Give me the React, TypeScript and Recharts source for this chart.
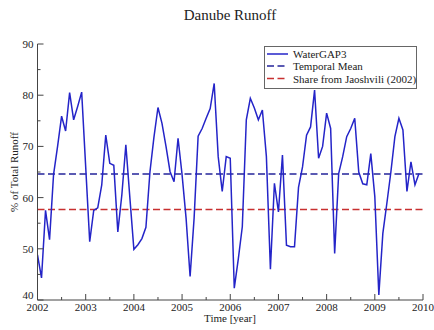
import React from 'react';
import { LineChart, Line, XAxis, YAxis, ReferenceLine, Legend, Customized } from 'recharts';

const title = 'Danube Runoff';
const xLabel = 'Time [year]';
const yLabel = '% of Total Runoff';
const seriesNames = ['WaterGAP3', 'Temporal Mean', 'Share from Jaoshvili (2002)'];

const startYear = 2002;
const v2002 = [48.8, 44.3, 57.5, 51.8, 64.5, 70.0, 75.9, 73.0, 80.5, 75.2, 77.8, 80.6];
const v2003 = [66.0, 51.4, 57.5, 58.0, 62.5, 72.2, 66.7, 66.3, 53.3, 60.5, 70.3, 60.0];
const v2004 = [49.9, 50.8, 52.0, 54.2, 65.0, 71.8, 77.6, 74.5, 70.0, 65.1, 63.1, 71.6];
const v2005 = [64.5, 56.0, 44.6, 56.0, 72.0, 73.5, 75.5, 77.4, 82.3, 68.0, 61.2, 68.0];
const v2006 = [67.7, 42.3, 48.0, 54.3, 75.2, 79.4, 77.5, 75.2, 77.1, 68.0, 46.0, 62.8];
const v2007 = [57.2, 68.3, 50.7, 50.4, 50.4, 62.0, 66.0, 72.2, 73.8, 81.0, 67.7, 70.0];
const v2008 = [76.5, 73.5, 49.1, 64.7, 68.0, 71.9, 73.5, 75.5, 65.0, 62.7, 62.5, 68.6];
const v2009 = [60.2, 41.0, 53.0, 58.9, 65.0, 71.9, 75.5, 73.2, 61.2, 67.0, 62.5, 64.7];
const runoff = [...v2002, ...v2003, ...v2004, ...v2005, ...v2006, ...v2007, ...v2008, ...v2009];

const temporalMean = 64.6;
const jaoshviliShare = 57.7;

const xTicks = [2002, 2002.5, 2003, 2003.5, 2004, 2004.5, 2005, 2005.5, 2006, 2006.5, 2007, 2007.5, 2008, 2008.5, 2009, 2009.5, 2010];
const yTicks = [40, 45, 50, 55, 60, 65, 70, 75, 80, 85, 90];

const data = runoff.map((v, i) => ({ t: startYear + i / 12, v }));

const FONT = '"Liberation Serif", "Times New Roman", Times, serif';
const AXIS = '#444';
const BLUE = '#2424c8';
const NAVY = '#24249a';
const RED = '#c83030';

const isMajorX = (v: number) => Math.abs(v - Math.round(v)) < 1e-6;
const isMajorY = (v: number) => v % 10 === 0;

const BottomTick = (p: any) => {
  const { x, y, payload } = p;
  const major = isMajorX(payload.value);
  return (
    <g>
      <line x1={x} x2={x} y1={y} y2={y - (major ? 6 : 3)} stroke={AXIS} strokeWidth={1} />
      {major && (
        <text x={x} y={y + 11} textAnchor="middle" style={{ fontFamily: FONT }} fontSize={11} fill="#222">
          {payload.value}
        </text>
      )}
    </g>
  );
};
const TopTick = (p: any) => {
  const { x, y, payload } = p;
  const major = isMajorX(payload.value);
  return <line x1={x} x2={x} y1={y} y2={y + (major ? 6 : 3)} stroke={AXIS} strokeWidth={1} />;
};
const LeftTick = (p: any) => {
  const { x, y, payload } = p;
  const major = isMajorY(payload.value);
  return (
    <g>
      <line x1={x} x2={x + (major ? 6 : 3)} y1={y} y2={y} stroke={AXIS} strokeWidth={1} />
      {major && (
        <text x={x - 4} y={payload.value === 40 ? y - 1 : y + 4} textAnchor="end" style={{ fontFamily: FONT }} fontSize={11} fill="#222">
          {payload.value}
        </text>
      )}
    </g>
  );
};
const RightTick = (p: any) => {
  const { x, y, payload } = p;
  const major = isMajorY(payload.value);
  return <line x1={x} x2={x - (major ? 6 : 3)} y1={y} y2={y} stroke={AXIS} strokeWidth={1} />;
};

const LegendBox = () => (
  <svg width={154} height={44} style={{ display: 'block' }}>
    <rect x={0.5} y={0.5} width={152} height={42} fill="#fff" stroke="#666" strokeWidth={1} />
    <line x1={3} x2={24} y1={8} y2={8} stroke={BLUE} strokeWidth={1.5} />
    <line x1={3} x2={24} y1={20} y2={20} stroke={NAVY} strokeWidth={1.5} strokeDasharray="7 3.5" />
    <line x1={3} x2={24} y1={32.5} y2={32.5} stroke={RED} strokeWidth={1.5} strokeDasharray="7 3.5" />
    <text x={29} y={12} style={{ fontFamily: FONT }} fontSize={11} fill="#222">{seriesNames[0]}</text>
    <text x={29} y={24} style={{ fontFamily: FONT }} fontSize={11} fill="#222">{seriesNames[1]}</text>
    <text x={29} y={36.5} style={{ fontFamily: FONT }} fontSize={11} fill="#222">{seriesNames[2]}</text>
  </svg>
);

const Texts = () => (
  <g>
    <text x={230} y={20} textAnchor="middle" style={{ fontFamily: FONT }} fontSize={15} fill="#222">{title}</text>
    <text x={230} y={322} textAnchor="middle" style={{ fontFamily: FONT }} fontSize={11} fill="#222">{xLabel}</text>
    <text x={18} y={172} textAnchor="middle" style={{ fontFamily: FONT }} fontSize={11} fill="#222" transform="rotate(-90 18 172)">{yLabel}</text>
  </g>
);

export default function App() {
  return (
    <div style={{ position: 'absolute', left: 0, top: 0, width: 434, height: 330, background: '#fff' }}>
      <LineChart width={434} height={330} data={data} margin={{ top: 44, right: 11, bottom: 0, left: 0 }}>
        <XAxis
          xAxisId="b"
          dataKey="t"
          type="number"
          domain={[2002, 2010]}
          ticks={xTicks}
          interval={0}
          height={30}
          tickSize={0}
          tickMargin={0}
          tick={<BottomTick />}
          axisLine={{ stroke: AXIS }}
          allowDataOverflow
        />
        <XAxis
          xAxisId="t"
          dataKey="t"
          type="number"
          orientation="top"
          domain={[2002, 2010]}
          ticks={xTicks}
          interval={0}
          height={0}
          tickSize={0}
          tickMargin={0}
          tick={<TopTick />}
          axisLine={{ stroke: AXIS }}
          allowDataOverflow
        />
        <YAxis
          yAxisId="l"
          type="number"
          domain={[40, 90]}
          ticks={yTicks}
          interval={0}
          width={37.5}
          tickSize={0}
          tickMargin={0}
          tick={<LeftTick />}
          axisLine={{ stroke: AXIS }}
          allowDataOverflow
        />
        <YAxis
          yAxisId="r"
          type="number"
          orientation="right"
          domain={[40, 90]}
          ticks={yTicks}
          interval={0}
          width={0}
          tickSize={0}
          tickMargin={0}
          tick={<RightTick />}
          axisLine={{ stroke: AXIS }}
          allowDataOverflow
        />
        <ReferenceLine xAxisId="b" yAxisId="l" y={temporalMean} stroke={NAVY} strokeWidth={1.5} strokeDasharray="7 3.5" />
        <ReferenceLine xAxisId="b" yAxisId="l" y={jaoshviliShare} stroke={RED} strokeWidth={1.5} strokeDasharray="7 3.5" />
        <Line
          xAxisId="b"
          yAxisId="l"
          dataKey="v"
          type="linear"
          stroke={BLUE}
          strokeWidth={1.5}
          dot={false}
          isAnimationActive={false}
        />
        <Legend
          layout="horizontal"
          verticalAlign="middle"
          align="center"
          content={<LegendBox />}
          wrapperStyle={{ position: 'absolute', left: 264, top: 46, width: 154, height: 44, margin: 0, padding: 0 }}
        />
        <Customized component={<Texts />} />
      </LineChart>
    </div>
  );
}
